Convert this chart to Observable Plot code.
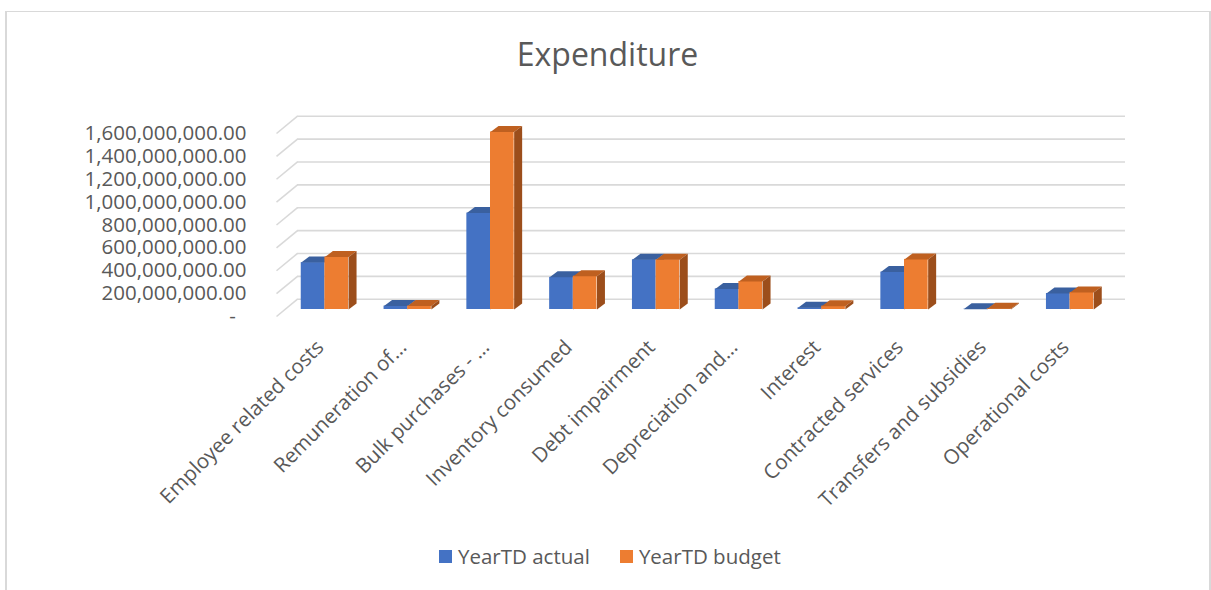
<!DOCTYPE html>
<html>
<head>
<meta charset="utf-8">
<script src="https://cdn.jsdelivr.net/npm/d3@7"></script>
<script src="https://cdn.jsdelivr.net/npm/@observablehq/plot@0.6"></script>
<style>
  html, body { margin: 0; padding: 0; background: #fff; }
  #wrap { position: relative; width: 1211px; height: 590px; overflow: hidden; font-family: "Open Sans", sans-serif; color: #595959; }
  #border { position: absolute; left: 5px; top: 11px; width: 1202px; height: 600px; border-top: 1px solid #d9d9d9; border-left: 2px solid #d9d9d9; border-right: 2px solid #d9d9d9; }
  #title { position: absolute; left: 0; width: 1215px; top: 38px; text-align: center; font-size: 32px; line-height: 1; }
  #legend { position: absolute; top: 545px; left: 439px; font-size: 20.5px; line-height: 1; white-space: nowrap; }
  .item { display: inline-flex; align-items: center; }
  .sw { display: inline-block; width: 13px; height: 13px; margin-right: 6px; }
  #chart { position: absolute; left: 0; top: 0; }
</style>
</head>
<body>
<div id="wrap">
  <div id="border"></div>
  <div id="chart"></div>
  <div id="title">Expenditure</div>
  <div id="legend"></div>
</div>
<script>
// ---- data ----
const categories = [
  "Employee related costs",
  "Remuneration of…",
  "Bulk purchases - …",
  "Inventory consumed",
  "Debt impairment",
  "Depreciation and…",
  "Interest",
  "Contracted services",
  "Transfers and subsidies",
  "Operational costs"
];
const actual = [410e6, 30e6, 843e6, 281e6, 435e6, 180e6, 15e6, 327e6, 2e6, 140e6];
const budget = [458e6, 30e6, 1552e6, 291e6, 435e6, 245e6, 29e6, 438e6, 7e6, 149e6];
const seriesNames = ["YearTD actual", "YearTD budget"];
const yTicks = [0, 200e6, 400e6, 600e6, 800e6, 1000e6, 1200e6, 1400e6, 1600e6];

// ---- style / layout ----
const colors = {front: ["#4472C4", "#ED7D31"], top: ["#3A609F", "#BF6020"], side: ["#2F4F87", "#9C4E1B"]};
const W = 1211, H = 590, mL = 283, mR = 100, mT = 126, mB = 281;
const yMax = 1600e6;
const kx = categories.length / (W - mL - mR);   // x units per pixel
const ky = yMax / (H - mT - mB);                 // y units per pixel
const barW = 23.65 * kx, depX = 8 * kx, depY = 6 * ky;

const bars = [];
categories.forEach((c, i) => {
  [actual, budget].forEach((arr, s) => {
    const x1 = s === 0 ? i + 0.5 - barW : i + 0.5;
    bars.push({cat: c, s, v: arr[i], x1, x2: x1 + barW, key: c + "|" + s});
  });
});
function poly(b, face) {
  const pts = face === "top"
    ? [[b.x1, b.v], [b.x2, b.v], [b.x2 + depX, b.v + depY], [b.x1 + depX, b.v + depY]]
    : [[b.x2, 0], [b.x2, b.v], [b.x2 + depX, b.v + depY], [b.x2 + depX, depY]];
  return pts.map(([x, y]) => ({key: b.key, s: b.s, x, y}));
}
const faceMarks = [];
[0, 1].forEach(s => {
  const bs = bars.filter(b => b.s === s);
  faceMarks.push(Plot.rect(bs, {x1: "x1", x2: "x2", y1: 0, y2: "v", fill: colors.front[s]}));
  faceMarks.push(Plot.line(bs.flatMap(b => poly(b, "top")), {x: "x", y: "y", z: "key", fill: colors.top[s], stroke: "none", curve: "linear-closed"}));
  faceMarks.push(Plot.line(bs.flatMap(b => poly(b, "side")), {x: "x", y: "y", z: "key", fill: colors.side[s], stroke: "none", curve: "linear-closed"}));
});

const fmt = d => d === 0 ? "-\u00a0\u00a0" : d3.format(",.2f")(d);
const grid = "#d9d9d9";

const chart = Plot.plot({
  width: W, height: H,
  marginLeft: mL, marginRight: mR, marginTop: mT, marginBottom: mB,
  x: {domain: [0, categories.length], axis: null},
  y: {domain: [0, yMax], axis: null},
  style: {fontFamily: "Open Sans, sans-serif", fontSize: "20.5px", color: "#595959", background: "transparent", overflow: "visible"},
  marks: [
    // back wall gridlines
    Plot.ruleY(yTicks, {y: d => d, x1: 0, x2: categories.length, dx: 14, dy: -10.3, stroke: grid, strokeWidth: 1.6}),
    // side wall diagonals
    Plot.link(yTicks, {x1: -7 * kx, y1: d => d - 7 * ky, x2: 14 * kx, y2: d => d + 10.3 * ky, stroke: grid, strokeWidth: 1.6}),
    ...faceMarks,
    // y tick labels
    Plot.text(yTicks, {y: d => d, frameAnchor: "left", text: fmt, textAnchor: "end", dx: -37, dy: 7, fill: "#595959"}),
    // category labels
    Plot.text(categories, {x: (d, i) => i + 0.5, frameAnchor: "bottom", text: d => d, rotate: -45, textAnchor: "end", lineAnchor: "bottom", dy: 39, fill: "#595959"})
  ]
});
document.getElementById("chart").appendChild(chart);

const legend = document.getElementById("legend");
seriesNames.forEach((n, s) => {
  const it = document.createElement("span");
  it.className = "item";
  it.style.marginRight = s === 0 ? "30px" : "0";
  it.innerHTML = `<span class="sw" style="background:${colors.front[s]}"></span>${n}`;
  legend.appendChild(it);
});
</script>
</body>
</html>
